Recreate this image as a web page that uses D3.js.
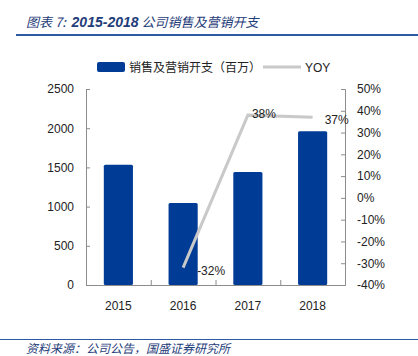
<!DOCTYPE html>
<html><head><meta charset="utf-8">
<script src="https://cdn.jsdelivr.net/npm/d3@7"></script>
<style>body{margin:0;background:#fff}svg{display:block}</style>
</head><body>
<script>
const years = ["2015","2016","2017","2018"];
const expense = [1535, 1045, 1440, 1960];
const yoy = [null, -32, 38, 37];
const leftTicks = [0,500,1000,1500,2000,2500];
const rightTicks = [-40,-30,-20,-10,0,10,20,30,40,50];
const titleParts = ["图表 7:\u00a0\u00a0", "2015-2018", "\u00a0公司销售及营销开支"];
const source = "资料来源：公司公告，国盛证券研究所";
const seriesNames = ["销售及营销开支（百万）", "YOY"];

const W=418,H=356;
const svg=d3.select("body").append("svg").attr("width",W).attr("height",H);
const font="'Liberation Sans', Arial, sans-serif";
const cjk="'Noto Sans CJK SC', sans-serif";
const blue="#003b95", gray="#c9c9c9", axisC="#8c8c8c", navy="#1f3d7a";

const t=svg.append("text").attr("x",26).attr("y",27).attr("font-style","italic").attr("font-size",13).attr("fill",navy);
t.append("tspan").attr("font-family",cjk).text(titleParts[0]);
t.append("tspan").attr("font-family",font).attr("font-weight","bold").attr("font-size",14).text(titleParts[1]);
t.append("tspan").attr("font-family",cjk).text(titleParts[2]);
svg.append("rect").attr("x",16).attr("y",34).attr("width",W-16).attr("height",2).attr("fill","#2c5ba4");

const x=d3.scaleBand().domain(years).range([86,345]).paddingInner(0.55).paddingOuter(0.275);
const yL=d3.scaleLinear().domain([0,2500]).range([285,89]);
const yR=d3.scaleLinear().domain([-40,50]).range([285,89]);

// bars
svg.selectAll(".bar").data(expense).enter().append("rect")
 .attr("x",(d,i)=>x(years[i])).attr("width",x.bandwidth())
 .attr("y",d=>yL(d)).attr("height",d=>yL(0)-yL(d)).attr("fill",blue).attr("rx",1.5);

// axes
const axL=svg.append("g").attr("transform","translate(86,0)")
 .call(d3.axisLeft(yL).tickValues(leftTicks).tickSize(-4).tickPadding(12).tickFormat(d3.format("d")));
const axR=svg.append("g").attr("transform","translate(345,0)")
 .call(d3.axisRight(yR).tickValues(rightTicks).tickSize(-4).tickPadding(12).tickFormat(d=>d+"%"));
const xb=d3.scaleLinear().domain([0,4]).range([86,345]);
const axB=svg.append("g").attr("transform","translate(0,285)")
 .call(d3.axisBottom(xb).tickValues([0,1,2,3,4]).tickSize(-5).tickFormat(""));
svg.append("g").selectAll("text").data(years).enter().append("text")
 .attr("x",d=>x(d)+x.bandwidth()/2).attr("y",310).attr("text-anchor","middle")
 .attr("font-family",font).attr("font-size",12).attr("fill","#222").text(d=>d);
[axL,axR,axB].forEach(a=>{
  a.selectAll("path,line").attr("stroke",axisC);
  a.selectAll("text").attr("font-family",font).attr("font-size",12).attr("fill","#222");
});

// line
const pts=years.map((y,i)=>({y,v:yoy[i]})).filter(d=>d.v!==null);
svg.append("path").datum(pts).attr("fill","none").attr("stroke",gray).attr("stroke-width",3)
 .attr("d",d3.line().x(d=>x(d.y)+x.bandwidth()/2).y(d=>yR(d.v)));
const offs={"2016":[14,7],"2017":[4,3],"2018":[12,7]};
svg.selectAll(".lbl").data(pts).enter().append("text")
 .attr("x",d=>x(d.y)+x.bandwidth()/2+offs[d.y][0]).attr("y",d=>yR(d.v)+offs[d.y][1])
 .attr("font-family",font).attr("font-size",12).attr("fill","#222").text(d=>d.v+"%");

// legend
svg.append("rect").attr("x",97).attr("y",62).attr("width",28).attr("height",10).attr("rx",2).attr("fill",blue);
svg.append("text").attr("x",129).attr("y",72).attr("font-family",cjk)
 .attr("font-size",12).attr("fill","#222").text(seriesNames[0]);
svg.append("line").attr("x1",263).attr("x2",301).attr("y1",67).attr("y2",67).attr("stroke",gray).attr("stroke-width",3);
svg.append("text").attr("x",305).attr("y",72).attr("font-family",font).attr("font-size",12).attr("fill","#222").text(seriesNames[1]);

// footer
svg.append("rect").attr("x",0).attr("y",339).attr("width",W).attr("height",1).attr("fill","#2c5ba4");
svg.append("text").attr("x",26).attr("y",353).attr("font-family",cjk)
 .attr("font-style","italic").attr("font-size",12).attr("fill",navy).text(source);
</script>
</body></html>
